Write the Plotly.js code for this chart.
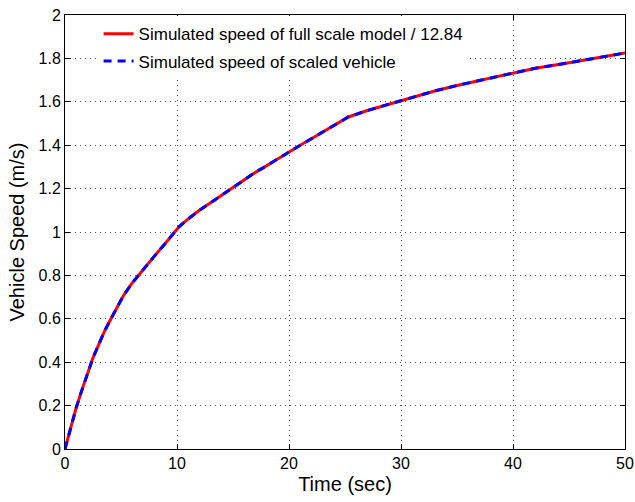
<!DOCTYPE html>
<html>
<head>
<meta charset="utf-8">
<script src="https://cdn.plot.ly/plotly-3.0.1.min.js"></script>
<style>html,body{margin:0;padding:0;background:#fff;}#chart{width:635px;height:502px;}</style>
</head>
<body>
<div id="chart"></div>
<script>
const timeSec = [0, 0.5, 1, 1.5, 2, 2.5, 3, 3.5, 4, 4.5, 5, 5.2, 6, 7, 8, 9, 10.2, 11, 12, 13, 14, 15, 16, 17, 18, 19, 20, 21, 22, 23, 24, 25.3, 27, 30, 33, 35, 38, 40, 42, 45, 48, 50];
const speedFull = [0, 0.1, 0.19, 0.27, 0.35, 0.42, 0.48, 0.54, 0.59, 0.64, 0.69, 0.705, 0.765, 0.83, 0.89, 0.95, 1.025, 1.06, 1.1, 1.135, 1.17, 1.205, 1.24, 1.275, 1.305, 1.338, 1.37, 1.4, 1.43, 1.46, 1.49, 1.53, 1.56, 1.605, 1.65, 1.675, 1.71, 1.73, 1.755, 1.78, 1.805, 1.825];
const speedScaled = [0, 0.1, 0.19, 0.27, 0.35, 0.42, 0.48, 0.54, 0.59, 0.64, 0.69, 0.705, 0.765, 0.83, 0.89, 0.95, 1.025, 1.06, 1.1, 1.135, 1.17, 1.205, 1.24, 1.275, 1.305, 1.338, 1.37, 1.4, 1.43, 1.46, 1.49, 1.53, 1.56, 1.605, 1.65, 1.675, 1.71, 1.73, 1.755, 1.78, 1.805, 1.825];
const seriesNames = ["Simulated speed of full scale model / 12.84", "Simulated speed of scaled vehicle"];
const xTicks = [0, 10, 20, 30, 40, 50];
const yTicks = [0, 0.2, 0.4, 0.6, 0.8, 1, 1.2, 1.4, 1.6, 1.8, 2];

const font = "Liberation Sans, Arial, Helvetica, sans-serif";
const traces = [
  {x: timeSec, y: speedFull, name: seriesNames[0], legendgroup: "a", mode: "lines", line: {color: "#ff0000", width: 3}},
  {x: timeSec, y: speedScaled, name: seriesNames[1], legendgroup: "b", mode: "lines", line: {color: "#0000ff", width: 3, dash: "8px,6px"}}
];
const axisCommon = {
  showline: true, linecolor: "#000", linewidth: 1, mirror: "allticks",
  ticks: "inside", ticklen: 5, tickcolor: "#000",
  showgrid: true, gridcolor: "#555", gridwidth: 1, griddash: "1px,4px",
  zeroline: false, tickfont: {family: font, size: 16, color: "#000"}
};
const layout = {
  width: 635, height: 502,
  margin: {l: 65, r: 10, t: 15, b: 53},
  paper_bgcolor: "#fff", plot_bgcolor: "#fff",
  font: {family: font, color: "#000"},
  showlegend: true,
  legend: {x: 0.06, y: 0.997, xanchor: "left", yanchor: "top", bgcolor: "#fff", borderwidth: 0,
           font: {family: font, size: 17, color: "#000"}, tracegroupgap: 2, traceorder: "grouped"},
  xaxis: Object.assign({}, axisCommon, {range: [0, 50], tickvals: xTicks,
         title: {text: "Time (sec)", font: {family: font, size: 20, color: "#000"}, standoff: 5}}),
  yaxis: Object.assign({}, axisCommon, {range: [0, 2], tickvals: yTicks,
         title: {text: "Vehicle Speed (m/s)", font: {family: font, size: 20, color: "#000"}, standoff: 8}})
};
Plotly.newPlot("chart", traces, layout, {displayModeBar: false, staticPlot: true});
</script>
</body>
</html>
